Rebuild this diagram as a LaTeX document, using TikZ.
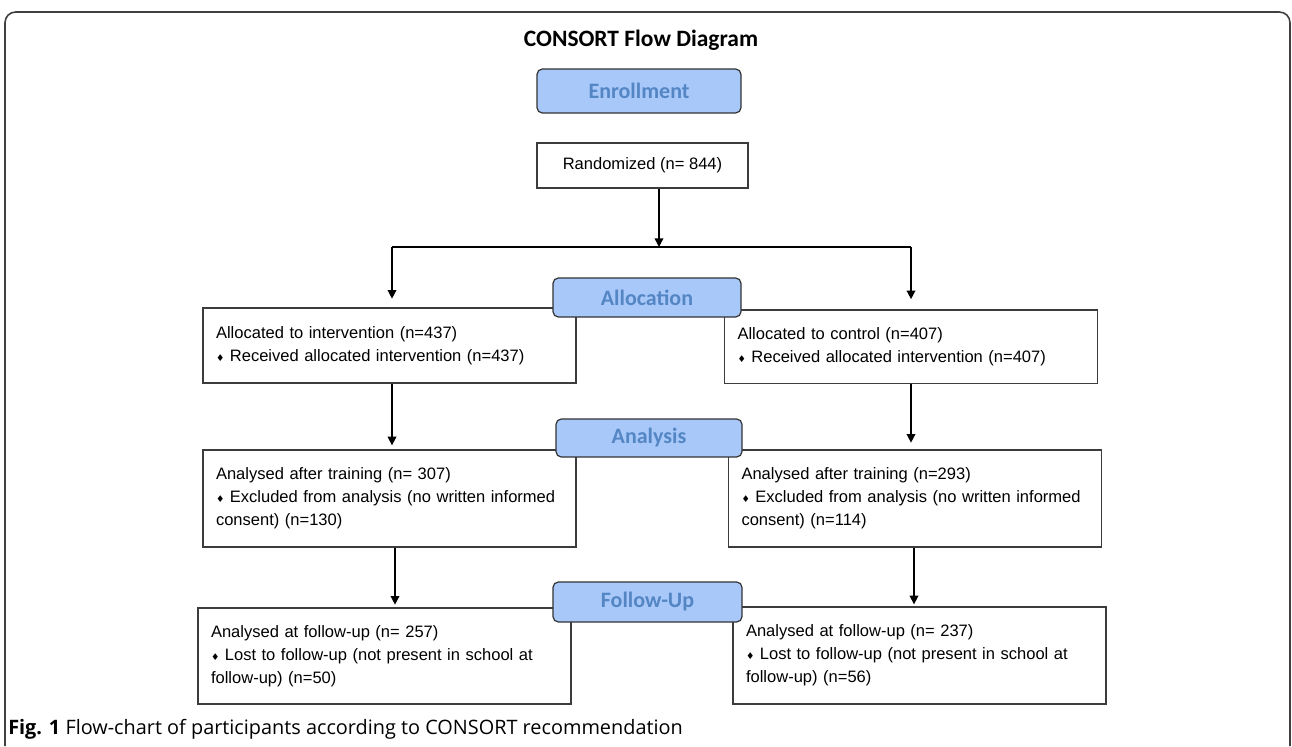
\documentclass[tikz,border=0pt]{standalone}
\usepackage{fontspec}
\setmainfont{Liberation Sans}
\newfontfamily\carl{Carlito}
\newfontfamily\capfont{Open Sans}
\newfontfamily\dejavu{DejaVu Sans}
\usetikzlibrary{arrows.meta}
\definecolor{lblfill}{RGB}{168,200,250}
\definecolor{lbltext}{RGB}{84,134,196}
\definecolor{boxline}{RGB}{60,60,60}
\newcommand{\bul}{{\dejavu\fontsize{7}{7}\selectfont ♦}\ }
\tikzset{
  flowbox/.style={draw=boxline, line width=1pt, rectangle, align=left,
    text width=260.25pt, inner xsep=9.75pt, inner ysep=0pt,
    font=\fontsize{12.4}{17.25}\selectfont},
  stagebox/.style={draw=black!80, line width=0.9pt, rounded corners=4pt,
    fill=lblfill, text=lbltext, font=\carl\bfseries\fontsize{16.5}{18}\selectfont,
    inner sep=0pt},
  arr/.style={line width=1.1pt, -{Triangle[length=6.5pt,width=6.5pt]}},
  conn/.style={line width=1.1pt}
}
\begin{document}
\begin{tikzpicture}[x=0.75pt,y=-0.75pt]
\useasboundingbox (0,0) rectangle (1292,746);
% outer frame
\draw[line width=1.2pt, black!75, rounded corners=8pt] (5,746) -- (5,12) -- (1290,12) -- (1290,746);
% title
\node[font=\carl\bfseries\fontsize{17.6}{19}\selectfont] (title) at (641,40) {CONSORT Flow Diagram};
% enrollment
\node[stagebox, minimum width=153pt, minimum height=33pt] (enroll) at (639,91) {Enrollment};
\node[draw=boxline, line width=1pt, minimum width=158.25pt, minimum height=33.75pt,
  font=\fontsize{12.4}{17.25}\selectfont, inner sep=0pt] (rand) at (642.5,165.5) {Randomized (n= 844)};
% column coordinates
\coordinate (split) at (659,247);
\coordinate (lx) at (392,247);
\coordinate (rx) at (911,247);
\coordinate (c1) at (395,0);
\coordinate (c2) at (914,0);
% allocation boxes
\node[flowbox, minimum height=56.25pt] (al) at (389.5,345.5) {Allocated to intervention (n=437)\\\bul Received allocated intervention (n=437)};
\node[flowbox, minimum height=55pt] (ar) at (911,346.5) {Allocated to control (n=407)\\\bul Received allocated intervention (n=407)};
% analysis boxes
\node[flowbox, minimum height=72.75pt] (anl) at (389.5,498.5) {Analysed after training (n= 307)\\\bul Excluded from analysis (no written informed\\consent) (n=130)};
\node[flowbox, minimum height=72.75pt] (anr) at (915,498.5) {Analysed after training (n=293)\\\bul Excluded from analysis (no written informed\\consent) (n=114)};
% follow-up boxes
\node[flowbox, minimum height=72pt] (fl) at (384.5,656) {Analysed at follow-up (n= 257)\\\bul Lost to follow-up (not present in school at\\follow-up) (n=50)};
\node[flowbox, minimum height=72.75pt] (fr) at (919.5,655.5) {Analysed at follow-up (n= 237)\\\bul Lost to follow-up (not present in school at\\follow-up) (n=56)};
% connectors
\draw[arr] (split |- rand.south) -- (split);
\draw[conn] (lx) -- (rx);
\draw[arr, shorten >=6.5pt] (lx) -- (lx |- al.north);
\draw[arr, shorten >=7.5pt] (rx) -- (rx |- ar.north);
\draw[arr, shorten >=3pt] (lx |- al.south) -- (lx |- anl.north);
\draw[arr, shorten >=5pt] (rx |- ar.south) -- (rx |- anr.north);
\draw[arr, shorten >=2pt] (c1 |- anl.south) -- (c1 |- fl.north);
\draw[arr, shorten >=1.5pt] (c2 |- anr.south) -- (c2 |- fr.north);
% stage labels
\node[stagebox, minimum width=141pt, minimum height=29.25pt] (alloc) at (647,297.5) {Allocation};
\node[stagebox, minimum width=139.5pt, minimum height=28.5pt] (analysis) at (649,438) {Analysis};
\node[stagebox, minimum width=141.75pt, minimum height=30pt] (follow) at (647.5,602) {Follow-Up};
% caption
\node[anchor=west, inner sep=0pt, font=\capfont\fontsize{14.9}{16}\selectfont] (caption) at (8,729) {\textbf{Fig. 1} Flow-chart of participants according to CONSORT recommendation};
\end{tikzpicture}
\end{document}
